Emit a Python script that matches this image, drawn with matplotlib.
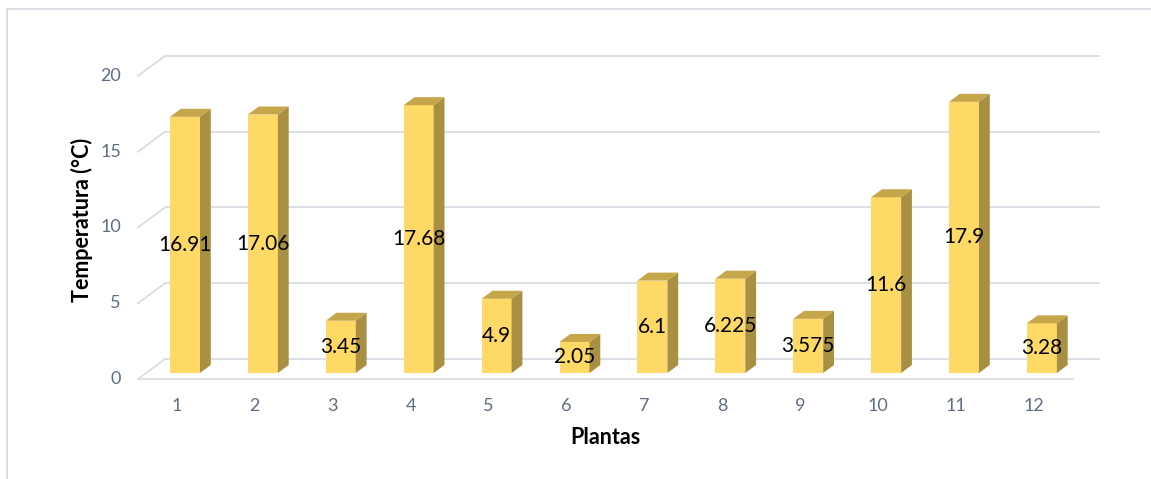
import matplotlib
matplotlib.use("Agg")
import matplotlib.pyplot as plt
from matplotlib.patches import Polygon
from matplotlib.lines import Line2D

# ---- data ----
categories = ["1", "2", "3", "4", "5", "6", "7", "8", "9", "10", "11", "12"]
values = [16.91, 17.06, 3.45, 17.68, 4.9, 2.05, 6.1, 6.225, 3.575, 11.6, 17.9, 3.28]
value_labels = ["16.91", "17.06", "3.45", "17.68", "4.9", "2.05", "6.1", "6.225", "3.575", "11.6", "17.9", "3.28"]
y_ticks = [0, 5, 10, 15, 20]
x_title = "Plantas"
y_title = "Temperatura (°C)"

# ---- styling ----
W, H, DPI = 1151, 479, 100
PX_PER_CAT = 77.9
PX_PER_VAL = 15.15
X0_PX = 107.1   # pixel x of category 0 (bar front plane)
Y0_PX = 373.0   # pixel y of value 0 (bar front plane)
DEPTH_DX_PX = 27.0
DEPTH_DY_PX = 20.0
F_BAR_FRONT, F_BAR_BACK = 0.3, 0.7
BAR_W = 30.0 / PX_PER_CAT

FRONT = "#FFD966"
SIDE = "#A88F42"
TOP = "#C6A64B"
GRID = "#D9DDE4"
TICK_COLOR = "#5E6D83"
FONT = "Lato"

fig = plt.figure(figsize=(W / DPI, H / DPI), dpi=DPI)
ax = fig.add_axes([0, 0, 1, 1])
ax.set_xlim((0 - X0_PX) / PX_PER_CAT, (W - X0_PX) / PX_PER_CAT)
ax.set_ylim((Y0_PX - H) / PX_PER_VAL, Y0_PX / PX_PER_VAL)
ax.axis("off")


def off(f):
    """data offset for depth fraction f relative to bar front plane"""
    return ((f - F_BAR_FRONT) * DEPTH_DX_PX / PX_PER_CAT,
            (f - F_BAR_FRONT) * DEPTH_DY_PX / PX_PER_VAL)


n = len(values)
x_lo, x_hi = 0.5, n + 0.5

# back wall gridlines and left side wall diagonals
bx, by = off(1.0)
fx, fy = off(0.0)
for g in y_ticks:
    ax.plot([x_lo + bx, x_hi + bx], [g + by, g + by], color=GRID, lw=1.3,
            zorder=1, solid_capstyle="butt")
    ax.plot([x_lo + fx, x_lo + bx], [g + fy, g + by], color=GRID, lw=1.3, zorder=1)
    ax.text(x_lo + fx - 17 / PX_PER_CAT, g + fy, str(g), ha="right", va="center",
            fontsize=13, color=TICK_COLOR, family=FONT)
# floor front edge
ax.plot([x_lo + fx, x_hi + fx], [fy, fy], color=GRID, lw=1.3, zorder=1)

# bars
ddx, ddy = off(F_BAR_BACK)
for i, (v, lab) in enumerate(zip(values, value_labels), start=1):
    l, r = i - BAR_W / 2, i + BAR_W / 2
    ax.add_patch(Polygon([(l, 0), (r, 0), (r, v), (l, v)], closed=True,
                         facecolor=FRONT, edgecolor="none", zorder=3))
    ax.add_patch(Polygon([(r, 0), (r + ddx, ddy), (r + ddx, v + ddy), (r, v)], closed=True,
                         facecolor=SIDE, edgecolor="none", zorder=3))
    ax.add_patch(Polygon([(l, v), (r, v), (r + ddx, v + ddy), (l + ddx, v + ddy)], closed=True,
                         facecolor=TOP, edgecolor="none", zorder=3))
    ax.text(i, v / 2, lab, ha="center", va="center", fontsize=15, color="black",
            family=FONT, zorder=5)
    ax.text(i + fx, fy - 27 / PX_PER_VAL, categories[i - 1], ha="center", va="center",
            fontsize=13, color=TICK_COLOR, family=FONT)

# axis titles
ax.text(((605 - X0_PX) / PX_PER_CAT), (Y0_PX - 438) / PX_PER_VAL, x_title,
        ha="center", va="center", fontsize=15.5, fontweight="bold", family=FONT)
ax.text(((82 - X0_PX) / PX_PER_CAT), (Y0_PX - 220) / PX_PER_VAL, y_title,
        ha="center", va="center", rotation=90, fontsize=15.5, fontweight="bold", family=FONT)

# chart border (top and left visible)
fig.add_artist(Line2D([7 / W, 1], [1 - 9 / H, 1 - 9 / H], color=GRID, lw=1.5))
fig.add_artist(Line2D([7 / W, 7 / W], [0, 1 - 9 / H], color=GRID, lw=1.5))

fig.savefig("out.png", dpi=DPI, facecolor="white")
